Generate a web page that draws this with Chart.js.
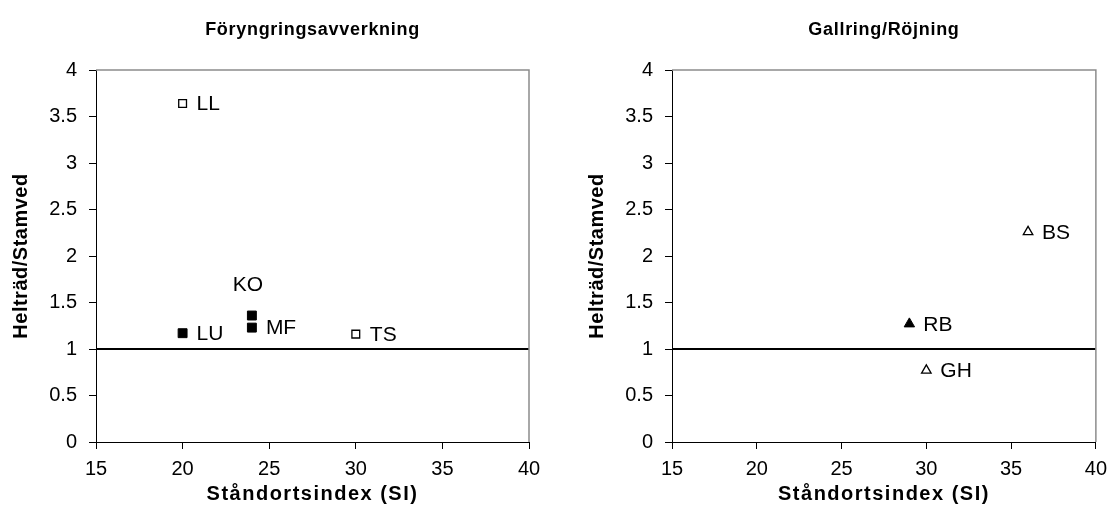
<!DOCTYPE html>
<html>
<head>
<meta charset="utf-8">
<script src="https://cdn.jsdelivr.net/npm/chart.js@4/dist/chart.umd.min.js"></script>
<style>
  html, body { margin: 0; padding: 0; background: #fff; }
  #wrap { position: relative; width: 1115px; height: 532px; }
  .panel { position: absolute; top: 0; height: 532px; }
  #p1 { left: 0; width: 557px; }
  #p2 { left: 557px; width: 558px; }
</style>
</head>
<body>
<div id="wrap">
  <div class="panel" id="p1"><canvas id="c1"></canvas></div>
  <div class="panel" id="p2"><canvas id="c2"></canvas></div>
</div>
<script>
// Föryngringsavverkning: site index vs whole-tree / stem-wood ratio
const fellingSites = ['LL', 'LU', 'KO', 'MF', 'TS'];
const fellingSI = [20, 20, 24, 24, 30];
const fellingRatio = [3.64, 1.17, 1.36, 1.23, 1.16];
const fellingFilled = [false, true, true, true, false];

// Gallring/Röjning
const thinningSites = ['BS', 'RB', 'GH'];
const thinningSI = [36, 29, 30];
const thinningRatio = [2.26, 1.27, 0.77];
const thinningFilled = [false, true, false];

// reference level (ratio = 1) across the x range
const refLevel = 1;
const xTicks = [15, 20, 25, 30, 35, 40];
const yTicks = [0, 0.5, 1, 1.5, 2, 2.5, 3, 3.5, 4];

const FONT = "'Liberation Sans', Arial, sans-serif";

function pointsOf(sites, xs, ys, filled, wantFilled) {
  const out = [];
  sites.forEach((s, i) => {
    if (filled[i] === wantFilled) out.push({ x: xs[i], y: ys[i], name: s });
  });
  return out;
}

// label placement around each marker: default is to the right
const labelAbove = { KO: true };

const frameAndText = {
  id: 'frameAndText',
  afterDatasetsDraw(chart, args, opts) {
    const { ctx, chartArea: a } = chart;
    ctx.save();
    // grey plot frame on top and right
    ctx.strokeStyle = '#8c8c8c';
    ctx.lineWidth = 1.5;
    ctx.beginPath();
    ctx.moveTo(a.left, a.top);
    ctx.lineTo(a.right, a.top);
    ctx.lineTo(a.right, a.bottom);
    ctx.stroke();

    // site labels
    ctx.fillStyle = '#000';
    ctx.font = '21px ' + FONT;
    ctx.textBaseline = 'middle';
    chart.data.datasets.forEach((ds, di) => {
      if (!ds.siteMarks) return;
      const meta = chart.getDatasetMeta(di);
      meta.data.forEach((el, i) => {
        const name = ds.data[i].name;
        if (labelAbove[name]) {
          ctx.textAlign = 'center';
          ctx.fillText(name, el.x - 4, el.y - 30);
        } else {
          ctx.textAlign = 'left';
          ctx.fillText(name, el.x + 14, el.y + 1);
        }
      });
    });

    // chart title
    ctx.font = 'bold 18px ' + FONT;
    ctx.textAlign = 'center';
    ctx.textBaseline = 'middle';
    try { ctx.letterSpacing = '0.7px'; } catch (e) {}
    ctx.fillText(opts.title, (a.left + a.right) / 2, 30);
    // x axis title
    ctx.font = 'bold 20px ' + FONT;
    try { ctx.letterSpacing = '1.5px'; } catch (e) {}
    ctx.fillText('Ståndortsindex (SI)', (a.left + a.right) / 2, 494);
    // y axis title
    try { ctx.letterSpacing = '0.5px'; } catch (e) {}
    ctx.translate(opts.yTitleX, (a.top + a.bottom) / 2);
    ctx.rotate(-Math.PI / 2);
    ctx.fillText('Helträd/Stamved', 0, 0);
    ctx.restore();
  }
};

function makeChart(canvasId, cfg) {
  const axisBase = {
    border: { display: true, color: '#000', width: 1 },
    grid: { drawOnChartArea: false, drawTicks: true, tickLength: 7, color: '#000', lineWidth: 1 },
  };
  return new Chart(document.getElementById(canvasId), {
    type: 'scatter',
    data: {
      datasets: [
        {
          label: 'ref',
          type: 'line',
          data: [{ x: xTicks[0], y: refLevel }, { x: xTicks[xTicks.length - 1], y: refLevel }],
          borderColor: '#000',
          borderWidth: 2,
          pointRadius: 0,
          fill: false,
        },
        {
          label: 'open',
          siteMarks: true,
          data: pointsOf(cfg.sites, cfg.xs, cfg.ys, cfg.filled, false),
          pointStyle: cfg.style,
          pointRadius: cfg.openRadius,
          backgroundColor: '#fff',
          borderColor: '#000',
          borderWidth: 1.3,
        },
        {
          label: 'filled',
          siteMarks: true,
          data: pointsOf(cfg.sites, cfg.xs, cfg.ys, cfg.filled, true),
          pointStyle: cfg.style,
          pointRadius: cfg.filledRadius,
          backgroundColor: '#000',
          borderColor: '#000',
          borderWidth: 1,
        },
      ],
    },
    options: {
      responsive: true,
      maintainAspectRatio: false,
      animation: false,
      events: [],
      layout: { padding: { top: 70, right: cfg.rightPad, bottom: 0, left: 0 } },
      plugins: {
        legend: { display: false },
        tooltip: { enabled: false },
        frameAndText: { title: cfg.title, yTitleX: cfg.yTitleX },
      },
      scales: {
        x: Object.assign({}, axisBase, {
          type: 'linear',
          min: xTicks[0],
          max: xTicks[xTicks.length - 1],
          afterBuildTicks: (s) => { s.ticks = xTicks.map(v => ({ value: v })); },
          ticks: { color: '#000', padding: 8, font: { family: FONT, size: 20 }, maxRotation: 0, callback: v => String(v) },
          afterFit: (s) => { s.height = 90; },
        }),
        y: Object.assign({}, axisBase, {
          type: 'linear',
          min: yTicks[0],
          max: yTicks[yTicks.length - 1],
          afterBuildTicks: (s) => { s.ticks = yTicks.map(v => ({ value: v })); },
          ticks: { color: '#000', padding: 12, font: { family: FONT, size: 20 }, callback: v => String(v) },
          afterFit: (s) => { s.width = cfg.yWidth; },
        }),
      },
    },
    plugins: [frameAndText],
  });
}

makeChart('c1', {
  title: 'Föryngringsavverkning',
  sites: fellingSites, xs: fellingSI, ys: fellingRatio, filled: fellingFilled,
  style: 'rect', openRadius: 5.5, filledRadius: 6.3,
  rightPad: 28, yWidth: 96, yTitleX: 21,
});

makeChart('c2', {
  title: 'Gallring/Röjning',
  sites: thinningSites, xs: thinningSI, ys: thinningRatio, filled: thinningFilled,
  style: 'triangle', openRadius: 5.5, filledRadius: 6,
  rightPad: 14, yWidth: 115, yTitleX: 40,
});
</script>
</body>
</html>
